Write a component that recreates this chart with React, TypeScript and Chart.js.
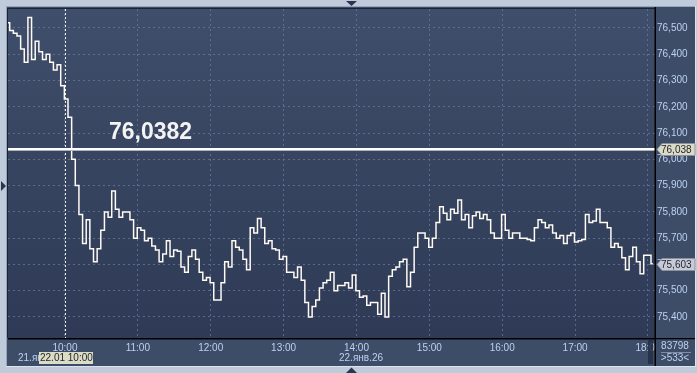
import React, { useEffect, useRef } from 'react';
import { Chart, registerables } from 'chart.js';

Chart.register(...registerables);

// ---- data ----
const startMinute = -47; // minutes relative to 10:00 (22.01)
const stepMinutes = 3;
const prices = [
  76.52, 76.49, 76.48, 76.47, 76.42, 76.37, 76.54, 76.38, 76.45, 76.41,
  76.38, 76.40, 76.37, 76.34, 76.36, 76.28, 76.23, 76.16, 76.00, 75.90,
  75.79, 75.68, 75.77, 75.66, 75.61, 75.66, 75.73, 75.80, 75.78, 75.88,
  75.81, 75.78, 75.80, 75.80, 75.77, 75.70, 75.74, 75.73, 75.69, 75.70,
  75.67, 75.655, 75.61, 75.64, 75.69, 75.63, 75.655, 75.65, 75.59, 75.57,
  75.63, 75.655, 75.62, 75.57, 75.54, 75.55, 75.53, 75.465, 75.465, 75.53,
  75.61, 75.59, 75.69, 75.665, 75.655, 75.62, 75.58, 75.74, 75.72, 75.775,
  75.74, 75.68, 75.69, 75.66, 75.655, 75.62, 75.63, 75.57, 75.57, 75.55,
  75.59, 75.54, 75.455, 75.40, 75.44, 75.465, 75.51, 75.53, 75.54, 75.57,
  75.50, 75.52, 75.52, 75.53, 75.51, 75.56, 75.50, 75.475, 75.48, 75.445,
  75.455, 75.455, 75.41, 75.49, 75.40, 75.555, 75.58, 75.59, 75.61, 75.62,
  75.515, 75.57, 75.665, 75.72, 75.72, 75.70, 75.665, 75.70, 75.76, 75.82,
  75.795, 75.77, 75.81, 75.795, 75.845, 75.77, 75.79, 75.74, 75.785, 75.80,
  75.775, 75.79, 75.77, 75.72, 75.70, 75.70, 75.79, 75.73, 75.70, 75.72,
  75.72, 75.70, 75.70, 75.695, 75.69, 75.74, 75.77, 75.76, 75.74, 75.75,
  75.72, 75.70, 75.71, 75.68, 75.71, 75.72, 75.685, 75.69, 75.695, 75.79,
  75.76, 75.765, 75.81, 75.76, 75.76, 75.74, 75.665, 75.68, 75.665, 75.625,
  75.58, 75.63, 75.665, 75.61, 75.565, 75.635, 75.635, 75.603,
];
const levelPrice = 76.0382;
const lastPrice = 75.603;
const crossMinute = 0;
const xTickMinutes = [0, 60, 120, 180, 240, 300, 360, 420, 480];
const xTickLabels = ['10:00', '11:00', '12:00', '13:00', '14:00', '15:00', '16:00', '17:00', '18:00'];
const yTicks = [75.4, 75.5, 75.6, 75.7, 75.8, 75.9, 76.0, 76.1, 76.2, 76.3, 76.4, 76.5];
const xMin = -46.9;
const xMax = 485.8;
const yMin = 75.32;
const yMax = 76.5723;
const prevDateLabel = '21.янв.26';
const crossDateLabel = '22.01 10:00';
const dateLabel = '22.янв.26';
const volumeText = '83798';
const spreadText = '>533<';

const FONT = '"Liberation Sans", Arial, sans-serif';
const TICK_COLOR = '#bcd2f0';
const PANEL = '#3d4c67';
const fmt3 = (v: number) => v.toFixed(3).replace('.', ',');

export default function App() {
  const ref = useRef<HTMLCanvasElement>(null);

  useEffect(() => {
    const canvas = ref.current!;
    const points = prices.map((p, i) => ({ x: startMinute + i * stepMinutes, y: p }));

    const tri = (ctx: CanvasRenderingContext2D, pts: number[][]) => {
      ctx.beginPath();
      ctx.moveTo(pts[0][0], pts[0][1]);
      for (let i = 1; i < pts.length; i++) ctx.lineTo(pts[i][0], pts[i][1]);
      ctx.closePath();
      ctx.fill();
    };

    const framePlugin = {
      id: 'frame',
      beforeDraw(chart: any) {
        const { ctx, chartArea: a } = chart;
        ctx.save();
        ctx.fillStyle = '#bfcbdb';
        ctx.fillRect(0, 0, 697, 373);
        ctx.fillStyle = '#98a6bb';
        ctx.fillRect(6, 6, 690, 1);
        ctx.fillRect(6, 6, 1, 360);
        ctx.fillStyle = '#dbe3ee';
        ctx.fillRect(6, 366, 690, 1);
        ctx.fillRect(695, 6, 1, 361);
        ctx.fillStyle = PANEL;
        ctx.fillRect(7, 7, 688, 359);
        const g = ctx.createLinearGradient(0, a.top, 0, a.bottom);
        g.addColorStop(0, '#3f4e6a');
        g.addColorStop(1, '#2e3a56');
        ctx.fillStyle = g;
        ctx.fillRect(a.left, a.top, a.right - a.left, a.bottom - a.top);
        ctx.fillStyle = '#1b2233';
        ctx.fillRect(a.left - 1, a.top - 1, a.right - a.left + 1, 1);
        ctx.fillRect(a.left - 1, a.top - 1, 1, a.bottom - a.top + 1);
        ctx.restore();
      },
      afterDatasetsDraw(chart: any) {
        const { ctx, chartArea: a, scales } = chart;
        const xs = scales.x;
        const ys = scales.y;
        ctx.save();
        // crosshair
        const cx = Math.round(xs.getPixelForValue(crossMinute)) + 0.5;
        ctx.strokeStyle = '#f2f2f2';
        ctx.lineWidth = 1;
        ctx.setLineDash([2, 2]);
        ctx.beginPath();
        ctx.moveTo(cx, a.top);
        ctx.lineTo(cx, a.bottom);
        ctx.stroke();
        ctx.setLineDash([]);
        // level line
        const ly = Math.round(ys.getPixelForValue(levelPrice));
        ctx.fillStyle = '#aeb4c0';
        ctx.fillRect(a.left, ly - 1, a.right - a.left, 3);
        ctx.fillStyle = '#ffffff';
        ctx.fillRect(a.left, ly - 1, a.right - a.left, 2);
        // big label
        ctx.font = `bold 23px ${FONT}`;
        ctx.fillStyle = '#f3f3f3';
        ctx.textBaseline = 'alphabetic';
        ctx.textAlign = 'left';
        ctx.fillText(levelPrice.toFixed(4).replace('.', ','), 109, ly - 10);
        ctx.restore();
      },
      afterDraw(chart: any) {
        const { ctx, chartArea: a, scales } = chart;
        const ys = scales.y;
        ctx.save();
        // axis borders
        ctx.fillStyle = '#000000';
        ctx.fillRect(a.left, a.bottom, 695 - a.left, 1.5);
        ctx.fillRect(a.right - 0.5, 7, 1.5, 359);
        // scroll marker
        ctx.fillStyle = 'rgba(36,46,70,0.85)';
        ctx.fillRect(a.right - 7, a.bottom + 2, 5, 364 - a.bottom - 2);
        // corner panel
        ctx.fillStyle = PANEL;
        ctx.fillRect(a.right + 1, a.bottom + 1.5, 695 - a.right - 1, 366 - a.bottom - 1.5);
        ctx.font = `10px ${FONT}`;
        ctx.fillStyle = TICK_COLOR;
        ctx.textAlign = 'center';
        ctx.textBaseline = 'middle';
        ctx.fillText(volumeText, 675, 346);
        ctx.fillText(spreadText, 675, 358);
        ctx.fillStyle = '#7f8ea8';
        ctx.fillRect(661, 352, 30, 1);

        // right axis badges
        const badge = (value: number, bg: string) => {
          const y = Math.round(ys.getPixelForValue(value));
          ctx.fillStyle = bg;
          ctx.beginPath();
          ctx.moveTo(657, y + 0.5);
          ctx.lineTo(662, y - 5.5);
          ctx.lineTo(695, y - 5.5);
          ctx.lineTo(695, y + 6.5);
          ctx.lineTo(662, y + 6.5);
          ctx.closePath();
          ctx.fill();
          ctx.strokeStyle = '#8c909a';
          ctx.lineWidth = 1;
          ctx.stroke();
          ctx.fillStyle = '#1c2230';
          ctx.textAlign = 'left';
          ctx.textBaseline = 'middle';
          ctx.font = `10px ${FONT}`;
          ctx.fillText(fmt3(value), 661, y + 1);
        };
        badge(levelPrice, '#dcdcc6');
        badge(lastPrice, '#c6cbd5');

        // bottom date row
        ctx.font = `10px ${FONT}`;
        ctx.textBaseline = 'middle';
        ctx.textAlign = 'left';
        ctx.fillStyle = TICK_COLOR;
        ctx.fillText(prevDateLabel, 18, 358);
        ctx.fillStyle = '#dcdcc4';
        ctx.fillRect(39, 352, 54, 12);
        ctx.fillStyle = '#1c2230';
        ctx.fillText(crossDateLabel, 40, 358.5);
        ctx.fillStyle = TICK_COLOR;
        ctx.textAlign = 'center';
        ctx.fillText(dateLabel, 361, 358);

        // small triangles
        ctx.fillStyle = '#2a3550';
        tri(ctx, [[346, 1], [357, 1], [351.5, 6]]);
        tri(ctx, [[346, 373], [357, 373], [351.5, 367.5]]);
        tri(ctx, [[1, 181], [1, 191], [6, 186]]);
        ctx.restore();
      },
    };

    const gridColor = 'rgba(105,122,155,0.75)';

    const chart = new Chart(canvas, {
      type: 'line',
      data: {
        datasets: [
          {
            data: points,
            borderColor: '#fffaf4',
            borderWidth: 1.5,
            pointRadius: 0,
            stepped: 'middle',
            fill: false,
          },
        ],
      },
      options: {
        animation: false,
        responsive: false,
        events: [],
        layout: { padding: { left: 8, top: 9, right: 2, bottom: 8 } },
        plugins: { legend: { display: false }, tooltip: { enabled: false } },
        scales: {
          x: {
            type: 'linear',
            min: xMin,
            max: xMax,
            afterFit: (s: any) => {
              s.height = 27;
            },
            afterBuildTicks: (s: any) => {
              s.ticks = xTickMinutes.map((v) => ({ value: v }));
            },
            ticks: {
              autoSkip: false,
              maxRotation: 0,
              minRotation: 0,
              padding: 4,
              color: TICK_COLOR,
              font: { family: FONT, size: 10 },
              callback: (v: any) => {
                const idx = xTickMinutes.indexOf(Number(v));
                return idx >= 0 ? xTickLabels[idx] : '';
              },
            },
            grid: { color: gridColor, drawTicks: false, lineWidth: 1 },
            border: { display: false, dash: [2, 3] },
          },
          y: {
            type: 'linear',
            position: 'right',
            min: yMin,
            max: yMax,
            afterFit: (s: any) => {
              s.width = 40;
            },
            afterBuildTicks: (s: any) => {
              s.ticks = yTicks.map((v) => ({ value: v }));
            },
            ticks: {
              padding: 2,
              color: TICK_COLOR,
              font: { family: FONT, size: 10 },
              callback: (v: any) => fmt3(Number(v)),
            },
            grid: { color: gridColor, drawTicks: false, lineWidth: 1 },
            border: { display: false, dash: [2, 3] },
          },
        },
      },
      plugins: [framePlugin],
    } as any);

    return () => chart.destroy();
  }, []);

  return (
    <div style={{ position: 'fixed', left: 0, top: 0, width: 697, height: 373 }}>
      <canvas ref={ref} width={697} height={373} style={{ display: 'block' }} />
    </div>
  );
}
